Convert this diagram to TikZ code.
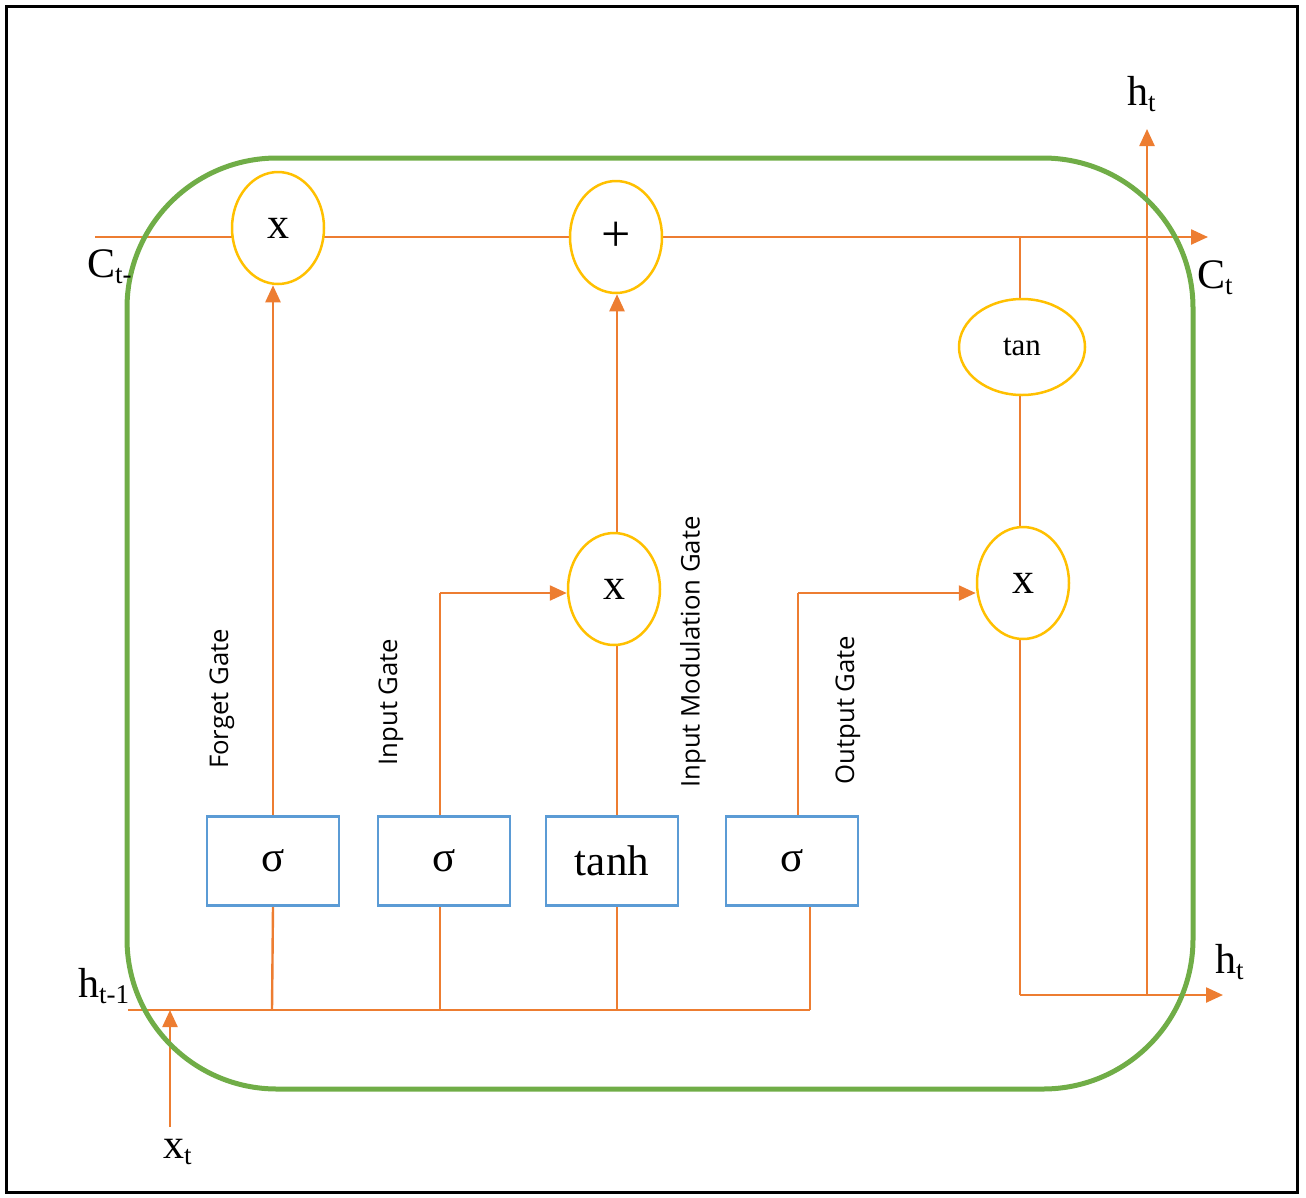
\documentclass[tikz,border=0pt]{standalone}
\usepackage{fontspec}
\setmainfont{Liberation Serif}
\newfontfamily\gatefont{Open Sans}
\usetikzlibrary{shapes.geometric,arrows.meta,backgrounds}
\definecolor{wire}{HTML}{ED7D31}
\definecolor{gold}{HTML}{FFC000}
\definecolor{boxblue}{HTML}{5B9BD5}
\definecolor{cellgreen}{HTML}{70AD47}
\newcommand\lowsub[1]{\raisebox{-0.15em}{\fontsize{27}{29}\selectfont #1}}

\begin{document}
\begin{tikzpicture}[x=1pt,y=-1pt,
  op/.style={ellipse,draw=gold,line width=2.5pt,fill=white,minimum width=92pt,
    minimum height=112pt,inner sep=0pt,font=\fontsize{44}{46}\selectfont},
  act/.style={rectangle,draw=boxblue,line width=2.2pt,fill=white,minimum width=132pt,
    minimum height=89pt,inner sep=0pt,font=\fontsize{43}{45}\selectfont},
  wireline/.style={draw=wire,line width=2.4pt},
  arr/.style={wireline,-{Triangle[length=17pt,width=15pt]}},
  gate/.style={rotate=90,inner sep=0pt,font=\gatefont\fontsize{25.7}{27}\selectfont},
  lab/.style={anchor=base west,inner sep=0pt,font=\fontsize{42}{44}\selectfont}
]
\useasboundingbox (0,0) rectangle (1306,1197);
\draw[line width=3pt] (6,6) rectangle (1297,1192);

% cell outline
\draw[cellgreen,line width=5pt,rounded corners=150pt] (127,158) rectangle (1193,1089);

% pointwise operations
\node[op] (mulF) at (278,228) {x};
\node[op,font=\fontsize{52}{54}\selectfont] (add) at (616,237) {+};
\node[op,minimum width=126pt,minimum height=96pt,font=\fontsize{31}{33}\selectfont] (tanc) at (1022,347) {tan};
\node[op] (mulI) at (614,589) {x};
\node[op] (mulO) at (1023,583) {x};

% activation layers
\node[act] (boxF) at (273,861) {σ};
\node[act] (boxI) at (444,861) {σ};
\node[act] (boxG) at (612,861) {tanh};
\node[act] (boxO) at (792,861) {σ};

% free ends and junctions
\coordinate (cin) at (95,237);
\coordinate (cout) at (1208,237);
\coordinate (ctap) at (1020,237);
\coordinate (hin) at (128,1010);
\coordinate (hend) at (810,1010);
\coordinate (xin) at (170,1127);
\coordinate (xhit) at (170,1010);
\coordinate (hcorner) at (1020,995);
\coordinate (hsplit) at (1147,995);
\coordinate (hout) at (1223,995);
\coordinate (hup) at (1147,129);
\coordinate (iturn) at (440,593);
\coordinate (oturn) at (798,593);

\begin{scope}[on background layer]
  % cell state
  \draw[arr] (cin) -- (cout);
  \draw[wireline] (ctap) -- (tanc.north -| ctap);
  \draw[wireline] (tanc.south -| ctap) -- (mulO.north -| ctap);
  \draw[wireline] (mulO.south -| ctap) -- (hcorner);
  \draw[arr] (hcorner) -- (hout);
  \draw[arr] (hsplit) -- (hup);
  % input bus
  \draw[wireline] (hin) -- (hend);
  \draw[arr] (xin) -- (xhit);
  % forget gate
  \draw[wireline] (272,1010) -- (boxF.south);
  \draw[arr] (boxF.north) -- (boxF.north |- mulF.south);
  % input gate
  \draw[wireline] (440,1010) -- (boxI.south -| iturn);
  \draw[wireline] (boxI.north -| iturn) -- (iturn);
  \draw[arr] (iturn) -- (mulI.west |- iturn);
  % input modulation gate
  \draw[wireline] (617,1010) -- (boxG.south -| 617,0);
  \draw[wireline] (boxG.north -| 617,0) -- (mulI.south -| 617,0);
  \draw[arr] (mulI.north -| 617,0) -- (add.south -| 617,0);
  % output gate
  \draw[wireline] (hend) -- (boxO.south -| hend);
  \draw[wireline] (boxO.north -| oturn) -- (oturn);
  \draw[arr] (oturn) -- (mulO.west |- oturn);
\end{scope}

% gate captions
\node[gate] (capF) at (222,699) {Forget Gate};
\node[gate] (capI) at (391,702) {Input Gate};
\node[gate] (capG) at (693,652) {Input Modulation Gate};
\node[gate] (capO) at (848,710) {Output Gate};

% signal labels
\node[lab] (lc0) at (87,277) {C\lowsub{t-}};
\node[lab] (lh0) at (78,997) {h\lowsub{t-1}};
\node[lab] (lx) at (163,1158) {x\lowsub{t}};
\node[lab] (lhtop) at (1127,105) {h\lowsub{t}};
\node[lab] (lc1) at (1197,288) {C\lowsub{t}};
\node[lab] (lhout) at (1215,973) {h\lowsub{t}};
\end{tikzpicture}
\end{document}
